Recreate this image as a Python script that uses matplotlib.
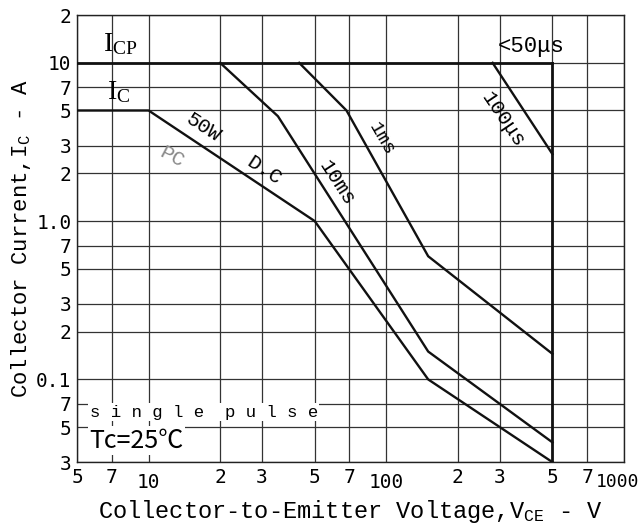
import matplotlib.pyplot as plt
from matplotlib.transforms import ScaledTranslation

plt.rcParams['font.family'] = ['Liberation Mono', 'DejaVu Sans']
plt.rcParams['mathtext.default'] = 'regular'

# safe operating area curves (V, A)
dc_v = [5, 10, 50, 150, 500]
dc_i = [5, 5, 1.0, 0.1, 0.03]
ms10_v = [20, 35, 150, 500]
ms10_i = [10, 4.6, 0.15, 0.04]
ms1_v = [43, 68, 150, 500]
ms1_i = [10, 5.0, 0.6, 0.145]
us100_v = [280, 500]
us100_i = [10, 2.65]
icp_v = [5, 500]
icp_i = [10, 10]
vmax_v = [500, 500]
vmax_i = [10, 0.03]

xticks = [5, 7, 10, 20, 30, 50, 70, 100, 200, 300, 500, 700, 1000]
xlabels = ['5', '7', '10', '2', '3', '5', '7', '100', '2', '3', '5', '7', '1000']
yticks = [0.03, 0.05, 0.07, 0.1, 0.2, 0.3, 0.5, 0.7, 1, 2, 3, 5, 7, 10, 20]
ylabels = ['3', '5', '7', '0.1', '2', '3', '5', '7', '1.0', '2', '3', '5', '7', '10', '2']

fig = plt.figure(figsize=(6.42, 5.24), dpi=100)
ax = fig.add_axes([0.12, 0.118, 0.852, 0.853])
ax.set_xscale('log')
ax.set_yscale('log')
ax.set_xlim(5, 1000)
ax.set_ylim(0.03, 20)

# grid
for x in xticks:
    ax.axvline(x, color='#333333', lw=0.9, zorder=1)
for y in yticks:
    ax.axhline(y, color='#333333', lw=0.9, zorder=1)

lc = '#111111'
ax.plot(dc_v, dc_i, color=lc, lw=1.7, zorder=3)
ax.plot(ms10_v, ms10_i, color=lc, lw=1.7, zorder=3)
ax.plot(ms1_v, ms1_i, color=lc, lw=1.7, zorder=3)
ax.plot(us100_v, us100_i, color=lc, lw=1.7, zorder=3)
ax.plot(icp_v, icp_i, color=lc, lw=2.0, zorder=3)
ax.plot(vmax_v, vmax_i, color=lc, lw=2.0, zorder=3)

ax.set_xticks(xticks)
ax.set_xticklabels(xlabels, fontsize=14, family='DejaVu Sans Mono')
ax.set_yticks(yticks)
ax.set_yticklabels(ylabels, fontsize=14, family='DejaVu Sans Mono')
ax.minorticks_off()
ax.tick_params(length=0, pad=4)
for lab, v in zip(ax.get_xticklabels(), xticks):
    if v in (10, 100, 1000):
        lab.set_y(-0.012)
    if v == 1000:
        lab.set_fontsize(13)
        lab.set_horizontalalignment('right')
        lab.set_transform(lab.get_transform() + ScaledTranslation(0.15, 0, fig.dpi_scale_trans))
for s in ax.spines.values():
    s.set_color('#222222')
    s.set_linewidth(1.0)

ax.set_xlabel('Collector-to-Emitter Voltage,V$_{CE}$ - V', fontsize=17, labelpad=4)
ax.set_ylabel('Collector Current,I$_C$ - A', fontsize=16, labelpad=2)

# annotations
ax.text(7.6, 13.2, 'I$_{CP}$', fontsize=20, family='Liberation Serif', ha='center', va='center')
ax.text(7.5, 6.5, 'I$_C$', fontsize=20, family='Liberation Serif', ha='center', va='center')
ax.text(17, 3.9, '50W', fontsize=15, rotation=-33, ha='center', va='center')
ax.text(30.5, 2.1, 'D.C', fontsize=15, rotation=-33, ha='center', va='center')
ax.text(12.6, 2.55, 'PC', fontsize=15, rotation=-28, color='#888888', ha='center', va='center')
ax.text(62, 1.75, '10ms', fontsize=15, rotation=-57, ha='center', va='center')
ax.text(95, 3.3, '1ms', fontsize=14, rotation=-60, ha='center', va='center')
ax.text(310, 4.4, '100\u03bcs', fontsize=15, rotation=-56, ha='center', va='center')
ax.text(405, 12.6, '<50\u03bcs', fontsize=16, ha='center', va='center')
ax.text(5.65, 0.062, 's i n g l e  p u l s e', fontsize=12.5, ha='left', va='center',
        bbox=dict(facecolor='white', edgecolor='none', pad=1), zorder=4)
ax.text(5.65, 0.041, 'Tc=25\u2103', fontsize=18, ha='left', va='center',
        family=['Noto Sans CJK JP', 'DejaVu Sans'],
        bbox=dict(facecolor='white', edgecolor='none', pad=1), zorder=4)

fig.savefig('out.png', dpi=100)
